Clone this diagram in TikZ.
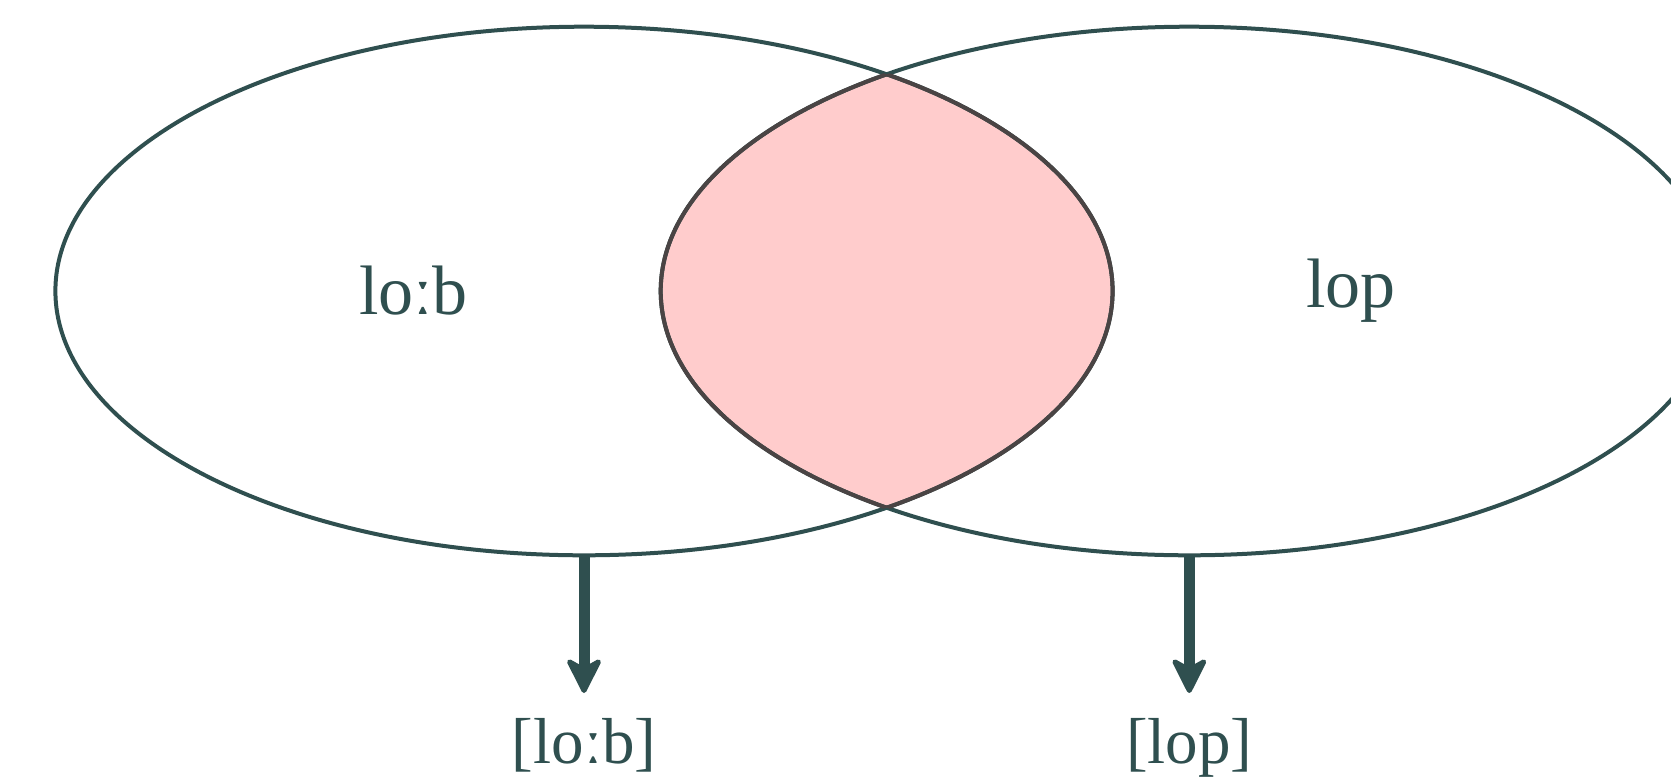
\documentclass[tikz,border=0pt]{standalone}
\usepackage{fontspec}
\setmainfont{Liberation Serif}
\usetikzlibrary{shapes.geometric,arrows.meta}
\definecolor{ink}{HTML}{2F4F4F}
\definecolor{lensfill}{HTML}{FFCCCC}
\definecolor{lensedge}{HTML}{4A4444}
\tikzset{
  setellipse/.style={ellipse, draw=ink, line width=4pt, inner sep=0pt,
    minimum width=1057.2pt, minimum height=528.6pt},
  word/.style={text=ink, font=\fontsize{70}{76}\selectfont, inner sep=0pt},
  phon/.style={text=ink, font=\fontsize{65}{70}\selectfont, inner sep=0pt},
  bigarrow/.style={draw=ink, line width=11pt,
    -{Stealth[round, length=40pt, width=40pt, inset=11pt, line width=5pt]}}
}
\begin{document}
\begin{tikzpicture}[x=1pt, y=-1pt]
\clip (0,0) rectangle (1671,780);
\useasboundingbox (0,0) rectangle (1671,780);
% lens fill
\begin{scope}
  \clip (584,291) ellipse [x radius=528.6, y radius=264.3];
  \fill[lensfill] (1189.3,291) ellipse [x radius=528.6, y radius=264.3];
\end{scope}
\node[setellipse] (A) at (584,291) {};
\node[setellipse] (B) at (1189.3,291) {};
% darker lens edges
\begin{scope}
  \clip (584,291) ellipse [x radius=528.6, y radius=264.3];
  \draw[lensedge, line width=4pt] (1189.3,291) ellipse [x radius=528.6, y radius=264.3];
\end{scope}
\begin{scope}
  \clip (1189.3,291) ellipse [x radius=528.6, y radius=264.3];
  \draw[lensedge, line width=4pt] (584,291) ellipse [x radius=528.6, y radius=264.3];
\end{scope}
\node[word] (ta) at (413.5,291) {loːb};
\node[word] (tb) at (1351,291) {lop};
\coordinate (tipA) at (584,693);
\coordinate (tipB) at (1189.3,693);
\draw[bigarrow] (A.south) -- (tipA);
\draw[bigarrow] (B.south) -- (tipB);
\node[phon, anchor=base] (la) at (584,763) {[loːb]};
\node[phon, anchor=base] (lb) at (1189.3,763) {[lop]};
\end{tikzpicture}
\end{document}
